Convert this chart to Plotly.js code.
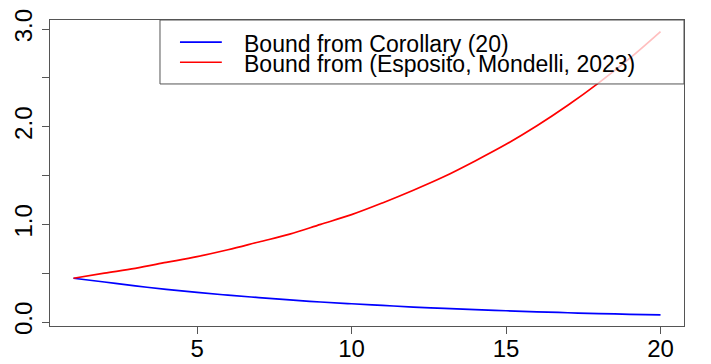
<!DOCTYPE html>
<html>
<head>
<meta charset="utf-8">
<script src="https://cdn.plot.ly/plotly-3.0.1.min.js"></script>
<style>
  html, body { margin: 0; padding: 0; background: #fff; }
  #myDiv { width: 711px; height: 364px; }
</style>
</head>
<body>
<div id="myDiv"></div>
<script>
// iteration index 1..20
var n = [1,2,3,4,5,6,7,8,9,10,11,12,13,14,15,16,17,18,19,20];

// values
var corollary = [0.448,0.41,0.37,0.335,0.304,0.275,0.25,0.226,0.205,0.187,0.17,0.153,0.139,0.126,0.115,0.104,0.095,0.086,0.079,0.072];
var esposito  = [0.448,0.50,0.55,0.61,0.67,0.74,0.82,0.90,1.00,1.10,1.22,1.35,1.49,1.65,1.82,2.01,2.22,2.45,2.70,2.975];

var yTicks = [0,0.5,1,1.5,2,2.5,3];
var yTickText = ['0.0','','1.0','','2.0','','3.0'];
var xTicks = [5,10,15,20];

var legendNames = ['Bound from Corollary (20)', 'Bound from (Esposito, Mondelli, 2023)'];
var colors = ['#0000ff', '#ff0000'];

var trace1 = {
    x: n,
    y: corollary,
    mode: 'lines',
    name: legendNames[0],
    line: {color: colors[0], width: 1.7, shape: 'spline'}
};

var trace2 = {
    x: n,
    y: esposito,
    mode: 'lines',
    name: legendNames[1],
    line: {color: colors[1], width: 1.7, shape: 'spline'}
};

var data = [trace1, trace2];

// legend drawn by hand (R-style legend box, tight rows)
var rowsY = [0.928, 0.862];
var shapes = [{
    type: 'rect', xref: 'paper', yref: 'paper',
    x0: 0.1735, x1: 1.0, y0: 0.791, y1: 1.0,
    fillcolor: 'rgba(255,255,255,0.75)',
    line: {color: '#555', width: 1},
    layer: 'above'
}];
var annotations = [];
for (var i = 0; i < legendNames.length; i++) {
    shapes.push({
        type: 'line', xref: 'paper', yref: 'paper',
        x0: 0.205, x1: 0.271, y0: rowsY[i], y1: rowsY[i],
        line: {color: colors[i], width: 1.7},
        layer: 'above'
    });
    annotations.push({
        xref: 'paper', yref: 'paper',
        x: 0.3044, y: rowsY[i] - 0.005,
        xanchor: 'left', yanchor: 'middle',
        text: legendNames[i],
        showarrow: false,
        borderpad: 0,
        font: {size: 23, color: '#000'}
    });
}

var layout = {
    width: 711,
    height: 364,
    margin: {l: 50, r: 27, t: 20, b: 38},
    paper_bgcolor: '#fff',
    plot_bgcolor: '#fff',
    showlegend: false,
    font: {family: 'Liberation Sans, Arial, sans-serif', size: 24, color: '#000'},
    xaxis: {
        range: [0.24, 20.76],
        tickvals: xTicks,
        ticks: 'outside', ticklen: 7, tickcolor: '#555', tickwidth: 1,
        ticklabelstandoff: -6,
        showline: true, mirror: true, linecolor: '#555', linewidth: 1,
        showgrid: false, zeroline: false,
        tickfont: {size: 24}
    },
    yaxis: {
        range: [-0.041, 3.094],
        tickvals: yTicks,
        ticktext: yTickText,
        tickangle: -90,
        ticks: 'outside', ticklen: 7, tickcolor: '#555', tickwidth: 1,
        showline: true, mirror: true, linecolor: '#555', linewidth: 1,
        showgrid: false, zeroline: false,
        tickfont: {size: 24}
    },
    shapes: shapes,
    annotations: annotations
};

Plotly.newPlot('myDiv', data, layout, {staticPlot: true});
</script>
</body>
</html>
